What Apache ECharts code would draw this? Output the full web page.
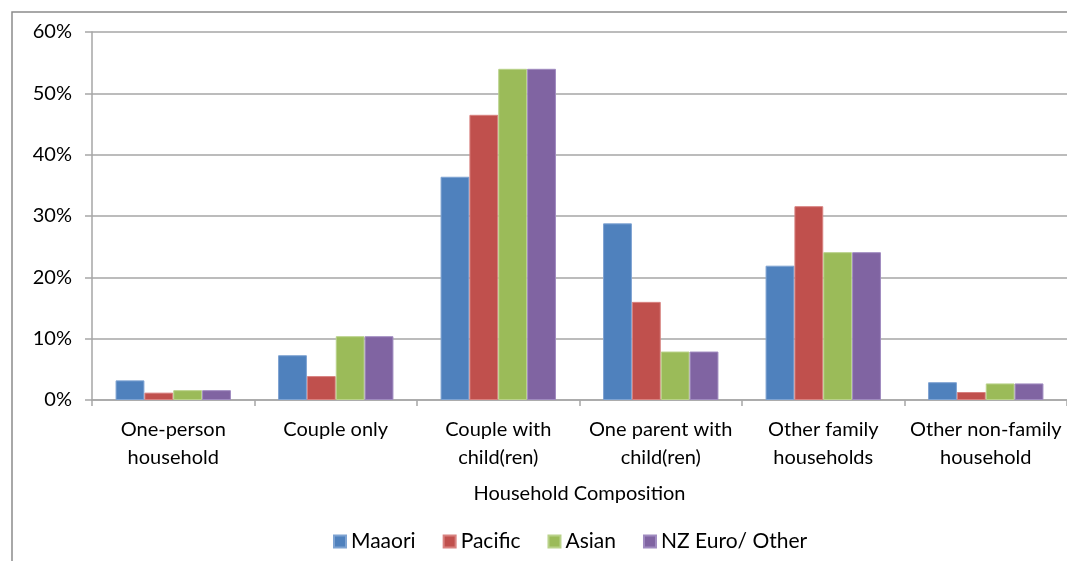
<!DOCTYPE html>
<html>
<head>
<meta charset="utf-8">
<script src="https://cdn.jsdelivr.net/npm/echarts@6/dist/echarts.min.js"></script>
<style>
    html, body { margin: 0; padding: 0; background: #fff; }
    #chartData { width: 1067px; height: 561px; }
</style>
</head>
<body>
<div id="chartData"></div>
<script>
// 类目与数据（单位: %）
var categories = ['One-person\nhousehold', 'Couple only', 'Couple with\nchild(ren)',
    'One parent with\nchild(ren)', 'Other family\nhouseholds', 'Other non-family\nhousehold'];
var legends = ['Maaori', 'Pacific', 'Asian', 'NZ Euro/ Other'];
var maaori = [3.2, 7.3, 36.4, 28.8, 21.9, 2.9];
var pacific = [1.2, 3.9, 46.5, 16.0, 31.6, 1.3];
var asian = [1.6, 10.4, 54.0, 7.9, 24.1, 2.7];
var nzEuro = [1.6, 10.4, 54.0, 7.9, 24.1, 2.7];
var yTicks = [0, 60, 10]; // min, max, interval

var colors = ['#4F81BD', '#C0504D', '#9BBB59', '#8064A2'];
var borders = ['#7EA3D2', '#D88280', '#B9D28A', '#A08BC0'];
var fontName = 'Lato';
var textColor = '#000';

var myChart = echarts.init(document.getElementById('chartData'));

var seriesData = [maaori, pacific, asian, nzEuro];
var series = [];
for (var i = 0; i < legends.length; i++) {
    series.push({
        name: legends[i],
        type: 'bar',
        barGap: 0,
        barCategoryGap: '29%',
        itemStyle: {
            color: colors[i],
            borderColor: borders[i],
            borderWidth: 1
        },
        data: seriesData[i]
    });
}

var option = {
    animation: false,
    color: colors,
    textStyle: { fontFamily: fontName },
    grid: {
        left: 92,
        top: 32,
        right: -3,
        bottom: 161
    },
    graphic: [{
        type: 'rect',
        shape: { x: 12, y: 12, width: 1100, height: 600 },
        style: { fill: 'none', stroke: '#8c8c8c', lineWidth: 1.5 },
        silent: true
    }],
    legend: {
        data: legends,
        bottom: 4,
        left: 328,
        itemWidth: 12,
        itemHeight: 12,
        itemGap: 27,
        icon: 'rect',
        textStyle: { fontFamily: fontName, fontSize: 21, color: textColor }
    },
    xAxis: {
        type: 'category',
        data: categories,
        name: 'Household Composition',
        nameLocation: 'middle',
        nameGap: 84,
        nameTextStyle: { fontFamily: fontName, fontSize: 20, color: textColor },
        axisLine: { lineStyle: { color: '#a6a6a6', width: 1.5 } },
        axisTick: { show: true, length: 6, alignWithLabel: false, lineStyle: { color: '#a6a6a6', width: 1.5 } },
        axisLabel: {
            interval: 0,
            margin: 16,
            lineHeight: 28,
            fontFamily: fontName,
            fontSize: 20,
            color: textColor
        }
    },
    yAxis: {
        type: 'value',
        min: yTicks[0],
        max: yTicks[1],
        interval: yTicks[2],
        axisLine: { show: true, lineStyle: { color: '#a6a6a6', width: 1.5 } },
        axisTick: { show: true, length: 7, lineStyle: { color: '#a6a6a6', width: 1.5 } },
        splitLine: { lineStyle: { color: '#a6a6a6', width: 1.5 } },
        axisLabel: {
            formatter: '{value}%',
            margin: 20,
            fontFamily: fontName,
            fontSize: 20,
            color: textColor
        }
    },
    series: series
};

myChart.setOption(option);
</script>
</body>
</html>
